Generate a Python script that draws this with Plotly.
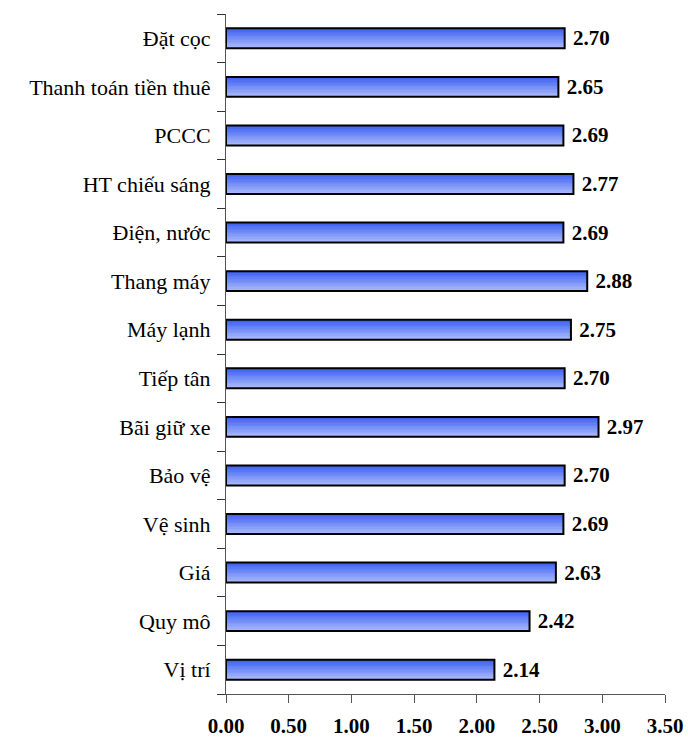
import plotly.graph_objects as go

# bottom -> top, as plotly draws horizontal bar categories
categories = [
    "Vị trí", "Quy mô", "Giá", "Vệ sinh", "Bảo vệ", "Bãi giữ xe", "Tiếp tân",
    "Máy lạnh", "Thang máy", "Điện, nước", "HT chiếu sáng", "PCCC",
    "Thanh toán tiền thuê", "Đặt cọc",
]
scores = [2.14, 2.42, 2.63, 2.69, 2.70, 2.97, 2.70, 2.75, 2.88, 2.69, 2.77, 2.69, 2.65, 2.70]
x_ticks = [0, 0.5, 1.0, 1.5, 2.0, 2.5, 3.0, 3.5]

FONT = "Times New Roman, Liberation Serif, DejaVu Serif, serif"
BAR_W = 0.41
N_BANDS = 14
LIGHT = (172, 188, 252)
DARK = (66, 100, 240)

fig = go.Figure()

# fake a vertical gradient: stacked thin bands, light at the bottom, dark on top
for i in range(N_BANDS):
    t = i / (N_BANDS - 1)
    rgb = tuple(round(LIGHT[k] + (DARK[k] - LIGHT[k]) * t) for k in range(3))
    fig.add_trace(
        go.Bar(
            x=scores,
            y=categories,
            orientation="h",
            width=BAR_W / N_BANDS + 0.002,
            offset=-BAR_W / 2 + i * BAR_W / N_BANDS,
            marker=dict(color="rgb(%d,%d,%d)" % rgb, line=dict(width=0)),
            showlegend=False,
            hoverinfo="skip",
        )
    )

# outline + value labels
fig.add_trace(
    go.Bar(
        x=scores,
        y=categories,
        orientation="h",
        width=BAR_W,
        offset=-BAR_W / 2,
        marker=dict(color="rgba(0,0,0,0)", line=dict(color="black", width=2)),
        text=[" %.2f" % v for v in scores],
        textposition="outside",
        constraintext="none",
        textfont=dict(family=FONT, size=21, color="black", weight="bold"),
        cliponaxis=False,
        showlegend=False,
        hovertemplate="%{y}: %{x:.2f}<extra></extra>",
    )
)

fig.update_layout(
    width=688,
    height=743,
    barmode="overlay",
    paper_bgcolor="white",
    plot_bgcolor="white",
    margin=dict(l=226, r=23, t=14, b=49, autoexpand=False),
    font=dict(family=FONT, size=21, color="black"),
    xaxis=dict(
        range=[0, 3.5],
        tickvals=x_ticks,
        ticktext=["%.2f" % v for v in x_ticks],
        tickfont=dict(family=FONT, size=21, color="black", weight="bold"),
        ticks="outside",
        ticklen=8,
        tickcolor="#555",
        showline=True,
        linecolor="#555",
        linewidth=1,
        showgrid=False,
        zeroline=False,
        automargin=False,
        ticklabelstandoff=5,
    ),
    yaxis=dict(
        type="category",
        categoryorder="array",
        categoryarray=categories,
        tickson="boundaries",
        ticks="outside",
        ticklen=8,
        tickcolor="#333",
        showline=True,
        linecolor="#555",
        linewidth=1,
        showgrid=False,
        automargin=False,
        tickfont=dict(family=FONT, size=22, color="black", weight="normal"),
        ticklabelstandoff=10,
    ),
)

# drop the browser's default 8px body margin so the figure sits at the page corner
fig.write_html(
    "out.html",
    config={"displayModeBar": False},
    post_script="document.body.style.margin = '0';",
)
